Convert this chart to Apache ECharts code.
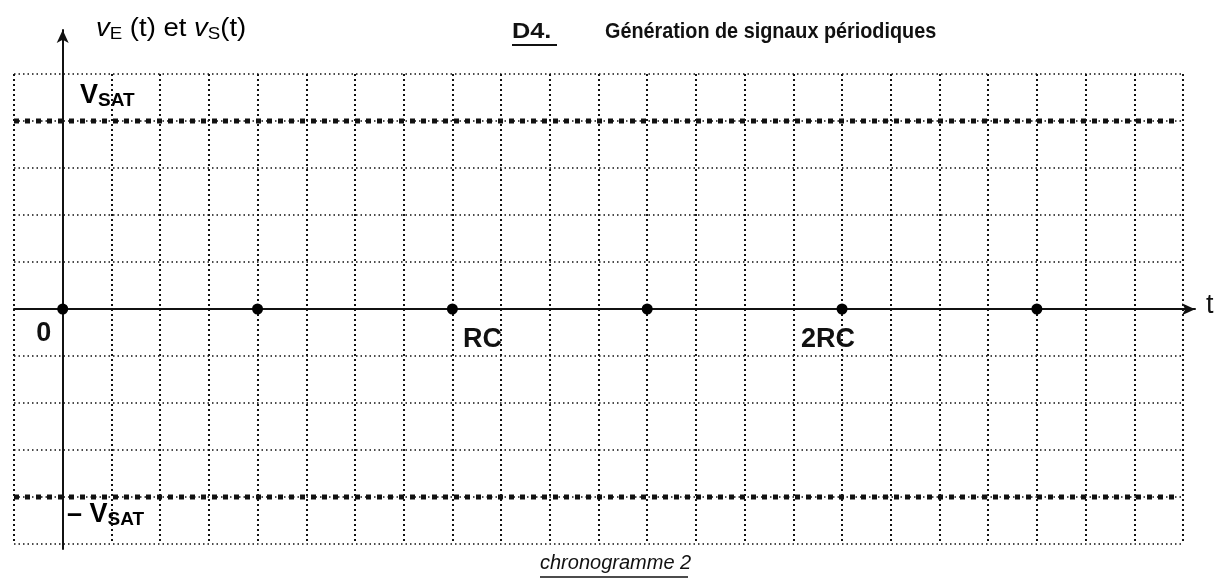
<!DOCTYPE html>
<html>
<head>
<meta charset="utf-8">
<style>
  * { margin: 0; padding: 0; }
  body { background: #fff; }
  #container { width: 1220px; height: 583px; }
</style>
</head>
<body>
<div id="container"></div>
<script src="https://cdn.jsdelivr.net/npm/echarts@6/dist/echarts.min.js"></script>
<script>
// time axis in grid cells, RC = 8 cells
var tRange = [-1, 23];
var vRange = [-5, 5];
var dotTimes = [0, 4, 8, 12, 16, 20];
var dotValues = [0, 0, 0, 0, 0, 0];
var tickNames = ['0', '', 'RC', '', '2RC', ''];
var satLevels = [4, -4];
var satNames = ['V', '\u2013 V'];

var FONT = '"Liberation Sans", Arial, sans-serif';
var dom = document.getElementById('container');
var myChart = echarts.init(dom, null, { renderer: 'canvas' });

// label offsets of the tick names next to the dots
var nameShift = { '0': [-19, 3], 'RC': [30, 9], '2RC': [-14, 9] };

var dots = dotTimes.map(function (t, i) {
  var name = tickNames[i];
  return {
    value: [t, dotValues[i]],
    label: {
      show: name !== '',
      formatter: name,
      position: 'bottom',
      distance: 3,
      offset: nameShift[name] || [0, 0]
    }
  };
});

var satSeries = satLevels.map(function (v) {
  return {
    type: 'line',
    xAxisIndex: 0, yAxisIndex: 0,
    data: [[tRange[0], v], [tRange[1] - 0.1, v]],
    symbol: 'none',
    silent: true,
    lineStyle: { color: '#111', width: 5, type: [5, 6], cap: 'butt', opacity: 1 }
  };
});

var subRich = {
  b: { fontFamily: FONT, fontSize: 27, fontWeight: 'bold', color: '#111' },
  s: { fontFamily: FONT, fontSize: 19, fontWeight: 'bold', color: '#111', padding: [11, 0, 0, 0] },
  i: { fontFamily: FONT, fontSize: 25, fontStyle: 'italic', color: '#111' },
  n: { fontFamily: FONT, fontSize: 25, color: '#111' },
  e: { fontFamily: FONT, fontSize: 17, color: '#111', padding: [10, 0, 0, 0] }
};

var option = {
  animation: false,
  backgroundColor: '#fff',
  grid: [
    { left: 14, right: 37, top: 74, bottom: 39 },
    { left: 14, right: 25, top: 30, bottom: 34 }
  ],
  xAxis: [
    {
      gridIndex: 0, type: 'value', min: tRange[0], max: tRange[1], interval: 1,
      axisLine: { show: false }, axisTick: { show: false }, axisLabel: { show: false },
      splitLine: { show: true, lineStyle: { color: '#111', width: 2, type: [2, 3] } }
    },
    {
      gridIndex: 1, type: 'value', min: tRange[0], max: 23.25,
      axisLine: { show: true, onZero: true, symbol: ['none', 'arrow'], symbolSize: [9, 13],
        lineStyle: { color: '#111', width: 2 } },
      axisTick: { show: false }, axisLabel: { show: false }, splitLine: { show: false }
    }
  ],
  yAxis: [
    {
      gridIndex: 0, type: 'value', min: vRange[0], max: vRange[1], interval: 1,
      axisLine: { show: false }, axisTick: { show: false }, axisLabel: { show: false },
      splitLine: { show: true, lineStyle: { color: '#111', width: 1.5, type: [1.5, 3] } }
    },
    {
      gridIndex: 1, type: 'value', min: -5.1, max: 5.94,
      axisLine: { show: true, onZero: true, symbol: ['none', 'arrow'], symbolSize: [9, 13],
        lineStyle: { color: '#111', width: 2 } },
      axisTick: { show: false }, axisLabel: { show: false }, splitLine: { show: false }
    }
  ],
  series: satSeries.concat([
    {
      type: 'scatter',
      xAxisIndex: 0, yAxisIndex: 0,
      data: dots,
      symbolSize: 11,
      itemStyle: { color: '#000', opacity: 1 },
      label: { color: '#111', fontFamily: FONT, fontSize: 27, fontWeight: 'bold', opacity: 1 },
      z: 5
    }
  ]),
  graphic: [
    {
      type: 'text', x: 96, y: 16, scaleX: 1.1,
      style: { text: '{i|v}{e|E}{n| (t) et }{i|v}{e|S}{n|(t)}', rich: subRich }
    },
    {
      type: 'text', x: 512, y: 21, scaleX: 1.15,
      style: { text: 'D4.', fontFamily: FONT, fontSize: 22, fontWeight: 'bold', fill: '#111' }
    },
    { type: 'line', shape: { x1: 512, y1: 45, x2: 557, y2: 45 }, style: { stroke: '#111', lineWidth: 2 } },
    {
      type: 'text', x: 605, y: 21, scaleX: 0.9,
      style: { text: 'Génération de signaux périodiques', fontFamily: FONT, fontSize: 22, fontWeight: 'bold', fill: '#111' }
    },
    {
      type: 'text', left: 80, top: 82,
      style: { text: '{b|' + satNames[0] + '}{s|SAT}', rich: subRich }
    },
    {
      type: 'text', left: 67, top: 501,
      style: { text: '{b|' + satNames[1] + '}{s|SAT}', rich: subRich }
    },
    {
      type: 'text', left: 1206, top: 292,
      style: { text: 't', fontFamily: FONT, fontSize: 27, fill: '#111' }
    },
    {
      type: 'text', left: 540, top: 553,
      style: { text: 'chronogramme 2', fontFamily: FONT, fontSize: 20, fontStyle: 'italic', fill: '#111' }
    },
    { type: 'line', shape: { x1: 540, y1: 577, x2: 688, y2: 577 }, style: { stroke: '#111', lineWidth: 1.5 } }
  ]
};

if (option && typeof option === 'object') {
  myChart.setOption(option);
}
</script>
</body>
</html>
